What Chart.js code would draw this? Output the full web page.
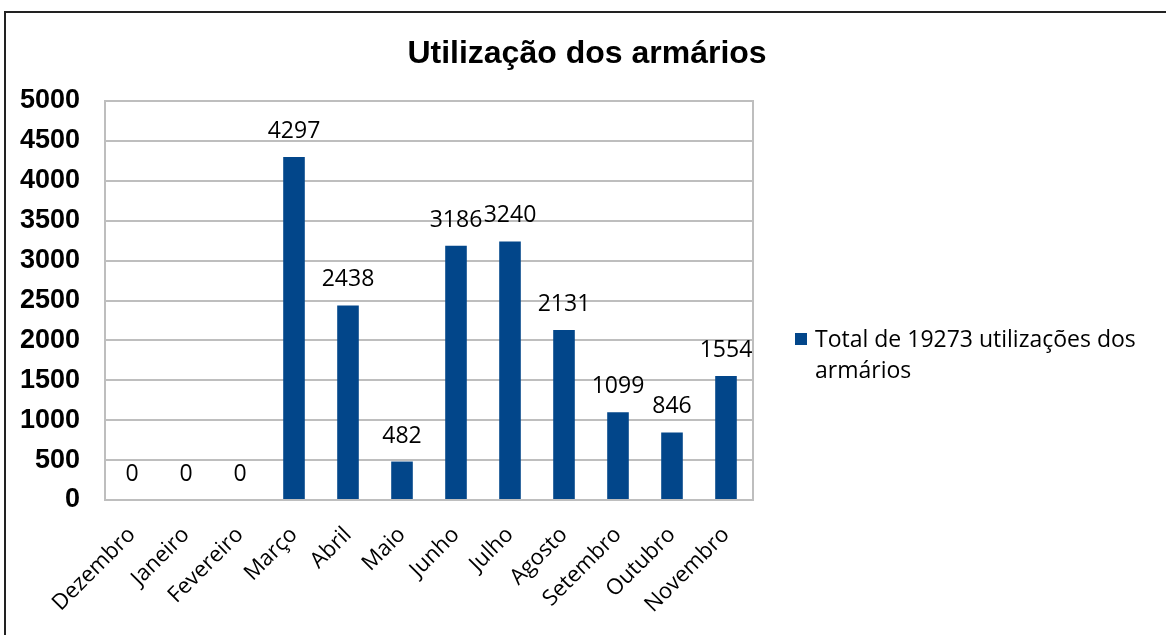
<!DOCTYPE html>
<html lang="pt">
<head>
<meta charset="utf-8">
<title>Utilização dos armários</title>
<script src="https://cdn.jsdelivr.net/npm/chart.js@4/dist/chart.umd.min.js"></script>
<style>
    html, body { margin: 0; padding: 0; background: #fff; overflow: hidden; }
    #moldura {
        position: absolute; left: 4px; top: 11px;
        width: 1300px; height: 800px;
        border-left: 2px solid #222; border-top: 2px solid #222;
    }
    #grafico { position: absolute; left: 0; top: 0; }
</style>
</head>
<body>
<div id="moldura"></div>
<canvas id="grafico" width="1166" height="635"></canvas>
<script>
// Dados do gráfico
const titulo = "Utilização dos armários";
const meses = ["Dezembro", "Janeiro", "Fevereiro", "Março", "Abril", "Maio",
               "Junho", "Julho", "Agosto", "Setembro", "Outubro", "Novembro"];
const utilizacoes = [0, 0, 0, 4297, 2438, 482, 3186, 3240, 2131, 1099, 846, 1554];
const legendaTexto = "Total de 19273 utilizações dos armários";
const yMin = 0;
const yMax = 5000;
const yPasso = 500;

const corBarra = "#02468A";
const corGrade = "#BEBEBE";
const fonteTexto = "'Open Sans', 'Noto Sans', sans-serif";

// Título desenhado à mão (centrado no canvas)
const tituloPlugin = {
    id: "tituloPlugin",
    afterDraw(chart) {
        const ctx = chart.ctx;
        ctx.save();
        ctx.font = "bold 32px 'Liberation Sans', Arial, sans-serif";
        ctx.fillStyle = "#000";
        ctx.textAlign = "center";
        ctx.textBaseline = "alphabetic";
        ctx.fillText(titulo, 587, 63);
        ctx.restore();
    }
};

// Moldura da área do gráfico
const molduraPlugin = {
    id: "molduraPlugin",
    afterDraw(chart) {
        const a = chart.chartArea;
        const ctx = chart.ctx;
        ctx.save();
        ctx.strokeStyle = corGrade;
        ctx.lineWidth = 2;
        ctx.strokeRect(a.left, a.top, a.right - a.left, a.bottom - a.top);
        ctx.restore();
    }
};

// Rótulos com os valores por cima das barras
const rotulosPlugin = {
    id: "rotulosPlugin",
    afterDatasetsDraw(chart) {
        const ctx = chart.ctx;
        const meta = chart.getDatasetMeta(0);
        ctx.save();
        ctx.font = "23px " + fonteTexto;
        ctx.fillStyle = "#000";
        ctx.textAlign = "center";
        ctx.textBaseline = "alphabetic";
        meta.data.forEach((barra, i) => {
            ctx.fillText(String(utilizacoes[i]), barra.x, barra.y - 19);
        });
        ctx.restore();
    }
};

// Legenda à direita, com quebra de linha
const legendaPlugin = {
    id: "legendaPlugin",
    afterDraw(chart) {
        const ctx = chart.ctx;
        const ds = chart.data.datasets[0];
        const x = 815;
        let y = 347;
        const larguraMax = 340;
        ctx.save();
        ctx.fillStyle = ds.backgroundColor;
        ctx.fillRect(795, 333, 12, 12);
        ctx.font = "23px " + fonteTexto;
        ctx.fillStyle = "#000";
        ctx.textAlign = "left";
        ctx.textBaseline = "alphabetic";
        const palavras = ds.label.split(" ");
        let linha = "";
        palavras.forEach(p => {
            const teste = linha ? linha + " " + p : p;
            if (ctx.measureText(teste).width > larguraMax && linha) {
                ctx.fillText(linha, x, y);
                linha = p;
                y += 31;
            } else {
                linha = teste;
            }
        });
        if (linha) ctx.fillText(linha, x, y);
        ctx.restore();
    }
};

const ctx = document.getElementById("grafico").getContext("2d");
new Chart(ctx, {
    type: "bar",
    data: {
        labels: meses,
        datasets: [{
            label: legendaTexto,
            data: utilizacoes,
            backgroundColor: corBarra,
            barPercentage: 0.4,
            categoryPercentage: 1.0
        }]
    },
    options: {
        responsive: false,
        animation: false,
        layout: { padding: { top: 101, right: 413, left: 0, bottom: 0 } },
        plugins: {
            legend: { display: false },
            title: { display: false },
            tooltip: { enabled: false }
        },
        scales: {
            x: {
                grid: { display: false },
                border: { display: false },
                ticks: {
                    color: "#000",
                    font: { family: fonteTexto, size: 22 },
                    minRotation: 45,
                    maxRotation: 45,
                    padding: 14
                },
                afterFit(scale) { scale.height = 135; }
            },
            y: {
                min: yMin,
                max: yMax,
                grid: { color: corGrade, lineWidth: 2, drawTicks: false },
                border: { display: false },
                ticks: {
                    stepSize: yPasso,
                    color: "#000",
                    padding: 25,
                    font: { family: "'Liberation Sans', Arial, sans-serif", size: 27, weight: "bold" },
                    callback: v => String(v)
                },
                afterFit(scale) { scale.width = 105; }
            }
        }
    },
    plugins: [tituloPlugin, molduraPlugin, rotulosPlugin, legendaPlugin]
});
</script>
</body>
</html>
